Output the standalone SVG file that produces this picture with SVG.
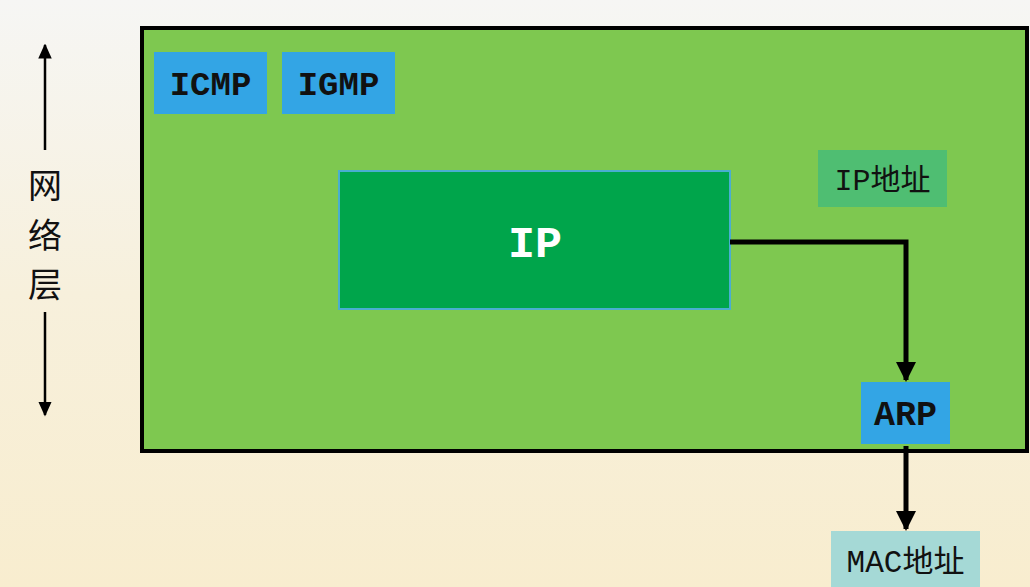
<svg xmlns="http://www.w3.org/2000/svg" width="1030" height="587" viewBox="0 0 1030 587">
<defs>
<linearGradient id="bg" x1="0" y1="0" x2="0" y2="1">
<stop offset="0" stop-color="#f6f6f4"/>
<stop offset="0.5" stop-color="#f7f0dc"/>
<stop offset="1" stop-color="#f8edcf"/>
</linearGradient>
<marker id="ah" viewBox="0 0 10 10" refX="9" refY="5" markerWidth="4" markerHeight="4" orient="auto" markerUnits="strokeWidth">
<path d="M0,0 L10,5 L0,10 z" fill="#000"/>
</marker>
<marker id="ahs" viewBox="0 0 10 10" refX="9" refY="5" markerWidth="6" markerHeight="6" orient="auto-start-reverse" markerUnits="strokeWidth">
<path d="M0,0.5 L10,5 L0,9.5 z" fill="#000"/>
</marker>
</defs>
<style>
.mono{font-family:"Liberation Mono","Noto Sans CJK SC",monospace;font-weight:bold;}
.cjk{font-family:"Liberation Mono","Noto Sans CJK SC",monospace;}
.side{font-family:"Noto Sans CJK SC",sans-serif;font-size:34px;fill:#111;}
.blue{fill:#33a5e5;}
.conn{stroke:#000;stroke-width:5;fill:none;}
</style>
<rect x="0" y="0" width="1030" height="587" fill="url(#bg)"/>
<g id="layer">
<rect x="142" y="28" width="885" height="423" fill="#7ec850" stroke="#000" stroke-width="4"/>
</g>
<g id="side-label">
<line x1="45" y1="45" x2="45" y2="150" stroke="#000" stroke-width="2.5" marker-start="url(#ahs)"/>
<line x1="45" y1="312" x2="45" y2="415" stroke="#000" stroke-width="2.5" marker-end="url(#ahs)"/>
<text x="45" y="198" text-anchor="middle" class="side">网</text>
<text x="45" y="248" text-anchor="middle" class="side">络</text>
<text x="45" y="297" text-anchor="middle" class="side">层</text>
</g>
<g id="icmp">
<rect x="154" y="52" width="113" height="62" class="blue"/>
<text x="210.5" y="95" font-size="34" text-anchor="middle" class="mono" fill="#111">ICMP</text>
</g>
<g id="igmp">
<rect x="282" y="52" width="113" height="62" class="blue"/>
<text x="338.5" y="95" font-size="34" text-anchor="middle" class="mono" fill="#111">IGMP</text>
</g>
<g id="ip">
<rect x="339" y="171" width="391" height="138" fill="#00a54b" stroke="#4aaed0" stroke-width="2"/>
<text x="535" y="257" font-size="45" text-anchor="middle" class="mono" fill="#fff">IP</text>
</g>
<g id="ipaddr">
<rect x="818" y="150" width="129" height="57" fill="#4fbe72"/>
<text x="882.5" y="190" font-size="30" text-anchor="middle" class="cjk" fill="#111">IP地址</text>
</g>
<g id="arp">
<rect x="861" y="382" width="89" height="62" class="blue"/>
<text x="905.5" y="425" font-size="35" text-anchor="middle" class="mono" fill="#111">ARP</text>
</g>
<g id="mac">
<rect x="831" y="531" width="149" height="60" fill="#a5d9d6"/>
<text x="905.5" y="572" font-size="31" text-anchor="middle" class="cjk" fill="#111">MAC地址</text>
</g>
<g id="connectors">
<path class="conn" d="M730,242 H906 V380" marker-end="url(#ah)"/>
<path class="conn" d="M906,446 V529" marker-end="url(#ah)"/>
</g>
</svg>
